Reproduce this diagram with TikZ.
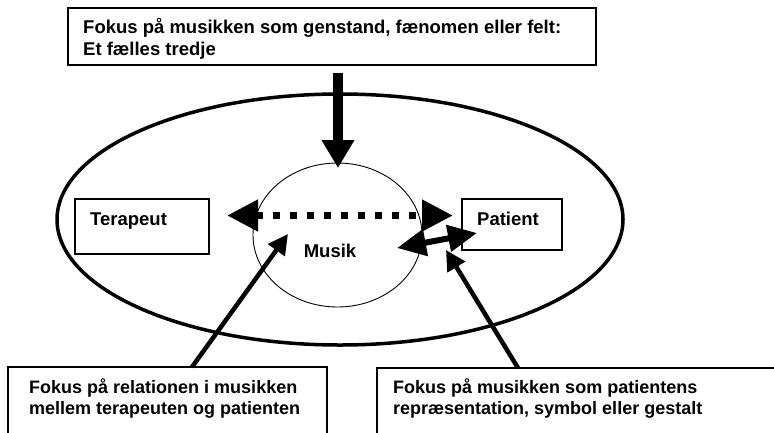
\documentclass[tikz,border=0pt]{standalone}
\usepackage{fontspec}
\setmainfont{Liberation Sans}
\usetikzlibrary{arrows.meta,shapes.geometric}
\begin{document}
\begin{tikzpicture}[x=1pt,y=-1pt,
  box/.style={draw=black,line width=1.2pt,rectangle,inner sep=0pt,outer sep=0pt,anchor=north west},
  txt/.style={inner sep=0pt,anchor=base west,font=\fontsize{18.5}{22}\selectfont\bfseries},
  txtb/.style={inner sep=0pt,anchor=base west,font=\fontsize{18}{21}\selectfont\bfseries},
  bigtip/.style={line width=10pt,-{Triangle[length=28pt,width=31pt]}},
  dotarrow/.style={line width=7.5pt,dash pattern=on 7pt off 10pt,
     {Triangle[length=31pt,width=30pt]}-{Triangle[length=31pt,width=30pt]}},
  dblarrow/.style={line width=6pt,{Triangle[length=29pt,width=26pt]}-{Triangle[length=29pt,width=26pt]}},
  thinarrow/.style={line width=4.5pt,-{Triangle[length=20pt,width=20pt]}}
]
\useasboundingbox (0,0) rectangle (774,432);
\clip (0,0) rectangle (774,432);

% outer field and music circle
\node[draw,ellipse,line width=3.5pt,minimum width=566pt,minimum height=251pt,inner sep=0pt] (field) at (340,219.5) {};
\node[draw,ellipse,line width=0.9pt,minimum width=169pt,minimum height=144pt,inner sep=0pt] (musik) at (337.5,235) {};
\node[txt,anchor=base] (musiktxt) at (330,257) {Musik};

% top box
\node[box,minimum width=528pt,minimum height=57pt] (topbox) at (68,8) {};
\node[txt] (toptxt) at (83,33) {\parbox[t]{510pt}{\raggedright Fokus på musikken som genstand, fænomen eller felt:\\Et fælles tredje}};

% therapist and patient
\node[box,minimum width=134pt,minimum height=55pt] (terapeut) at (75,199) {};
\node[txt] (terapeuttxt) at (90,225) {Terapeut};
\node[box,minimum width=100pt,minimum height=51pt] (patient) at (462,199) {};
\node[txt] (patienttxt) at (477,225) {Patient};

% bottom boxes
\node[box,minimum width=319pt,minimum height=80pt] (leftbox) at (8,367) {};
\node[txtb] (lefttxt) at (29,393.5) {\parbox[t]{290pt}{\raggedright Fokus på relationen i musikken\\mellem terapeuten og patienten}};
\node[box,minimum width=410pt,minimum height=80pt] (rightbox) at (377,368) {};
\node[txtb] (righttxt) at (393,393.5) {\parbox[t]{380pt}{\raggedright Fokus på musikken som patientens\\repræsentation, symbol eller gestalt}};

% connector end points
\coordinate (topstart) at (338,73);
\coordinate (topend) at (338,168);
\coordinate (dotL) at (227,215.5);
\coordinate (dotR) at (453,215.5);
\coordinate (dblL) at (397,248);
\coordinate (dblR) at (477,233);
\coordinate (lstart) at (192,367);
\coordinate (lend) at (288,234);
\coordinate (rstart) at (518,368);
\coordinate (rend) at (446,250);

% arrows
\draw[bigtip] (topstart) -- (topend);
\draw[dotarrow] (dotL) -- (dotR);
\draw[dblarrow] (dblL) -- (dblR);
\draw[thinarrow] (lstart) -- (lend);
\draw[thinarrow] (rstart) -- (rend);
\end{tikzpicture}
\end{document}
